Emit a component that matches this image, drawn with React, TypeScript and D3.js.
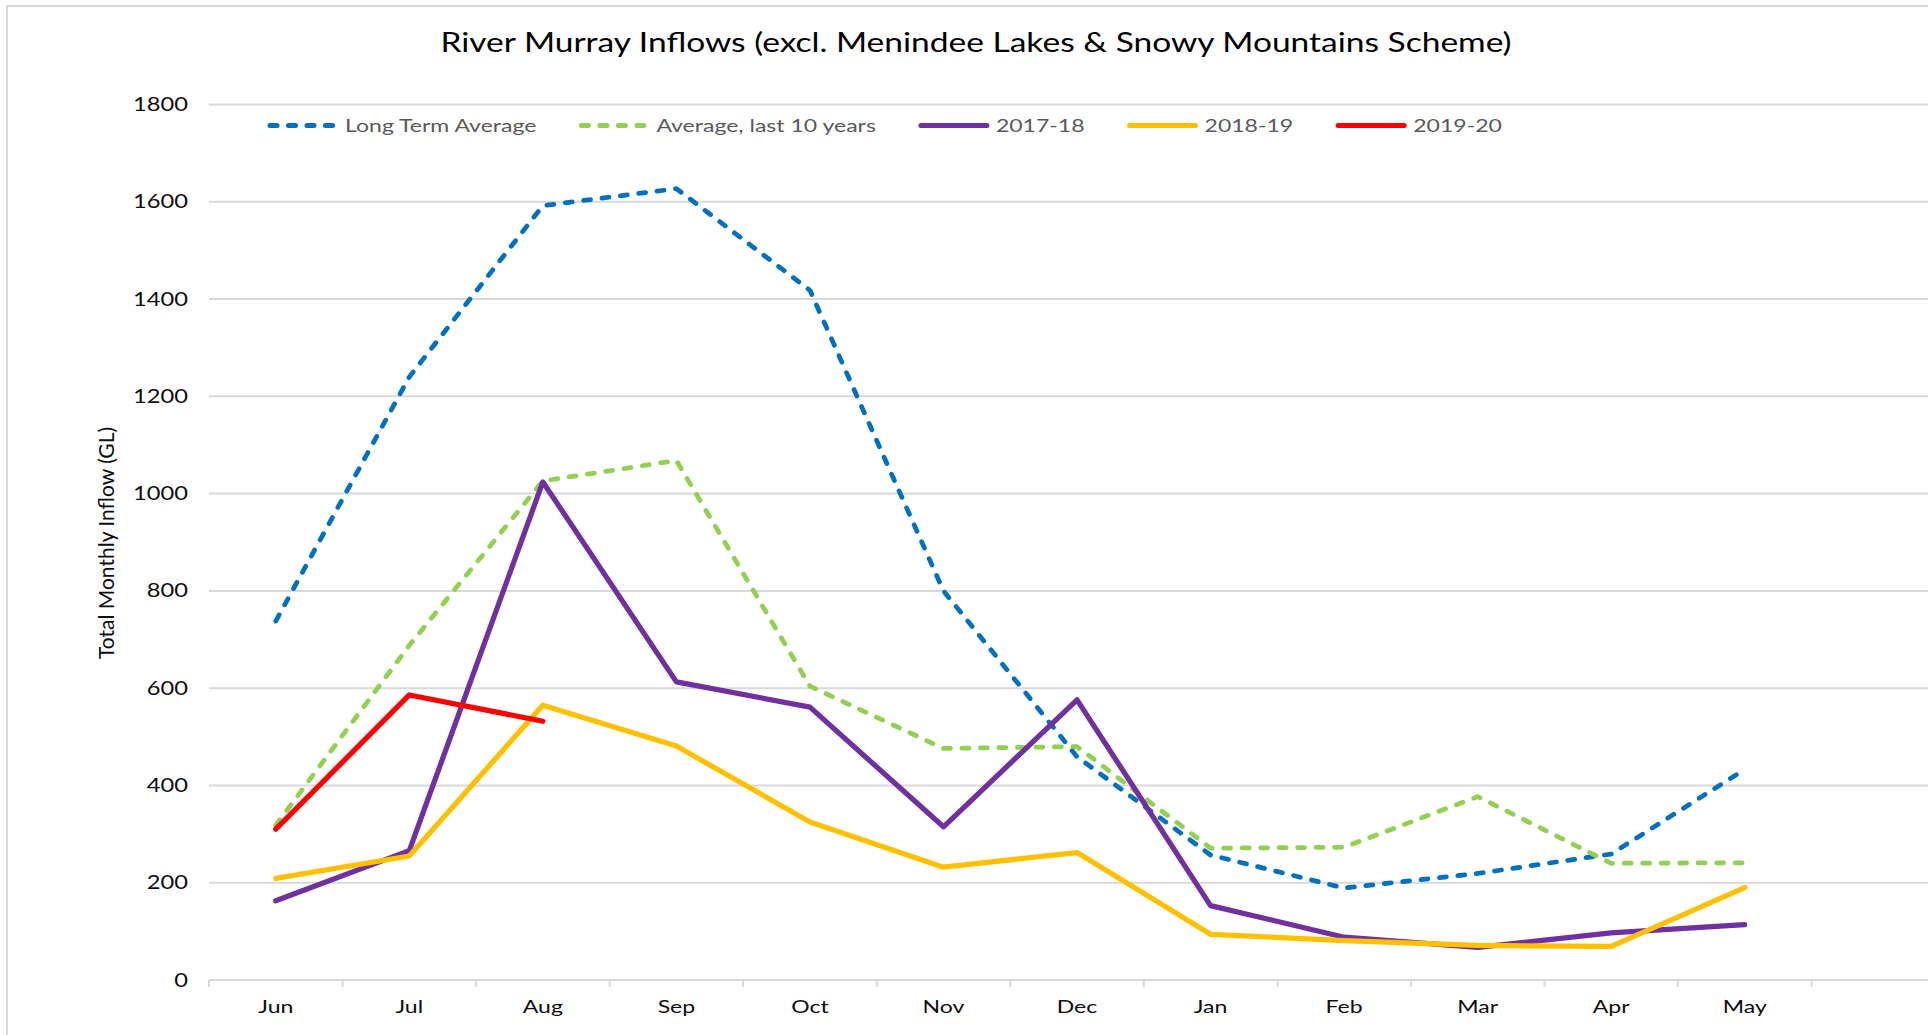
import React, { useRef, useEffect } from 'react';
import * as d3 from 'd3';

// monthly inflows (GL), water year Jun..May
const months = ['Jun', 'Jul', 'Aug', 'Sep', 'Oct', 'Nov', 'Dec', 'Jan', 'Feb', 'Mar', 'Apr', 'May'];
const yTicks = [0, 200, 400, 600, 800, 1000, 1200, 1400, 1600, 1800];

const longTermAvg = [738, 1240, 1592, 1627, 1418, 800, 459, 257, 189, 219, 259, 433];
const avgLast10 = [318, 688, 1026, 1068, 604, 476, 480, 271, 273, 377, 240, 241];
const y2017_18 = [163, 266, 1024, 613, 561, 315, 576, 153, 88, 67, 97, 114];
const y2018_19 = [209, 255, 565, 481, 325, 232, 262, 94, 81, 71, 69, 190];
const y2019_20 = [310, 586, 532];

const seriesNames = ['Long Term Average', 'Average, last 10 years', '2017-18', '2018-19', '2019-20'];
const seriesValues = [longTermAvg, avgLast10, y2017_18, y2018_19, y2019_20];
const seriesColors = ['#0070C0', '#92D050', '#7030A0', '#FFC000', '#FF0000'];
const seriesDashed = [true, true, false, false, false];

const W = 1928;
const H = 1035;
const plot = { left: 209, right: 1811.5, top: 104.5, bottom: 980 };
const SX = 1.28; // the original font is a wide geometric face
const FONT = 'Lato, "Open Sans", sans-serif';
const GRID = '#D9D9D9';

function Chart() {
    const ref = useRef<SVGSVGElement>(null);

    useEffect(() => {
        const svg = d3.select(ref.current);
        svg.selectAll('*').remove();

        const x = d3.scaleBand<string>().domain(months).range([plot.left, plot.right]);
        const y = d3.scaleLinear().domain([0, 1800]).range([plot.bottom, plot.top]);
        const cx = (i: number) => (x(months[i]) as number) + x.bandwidth() / 2;

        // outer chart border (cropped on the right / bottom)
        svg.append('path')
            .attr('d', `M7,${H} V6 H${W}`)
            .attr('fill', 'none')
            .attr('stroke', GRID)
            .attr('stroke-width', 2);

        // title
        svg.append('text')
            .attr('transform', `translate(976,52) scale(${SX},1)`)
            .attr('text-anchor', 'middle')
            .attr('font-family', FONT)
            .attr('font-size', 26.2)
            .attr('fill', '#000')
            .text('River Murray Inflows (excl. Menindee Lakes & Snowy Mountains Scheme)');

        // gridlines
        svg.append('g').selectAll('line')
            .data(yTicks)
            .join('line')
            .attr('x1', plot.left)
            .attr('x2', W)
            .attr('y1', d => y(d))
            .attr('y2', d => y(d))
            .attr('stroke', GRID)
            .attr('stroke-width', 2);

        // y tick labels
        svg.append('g').selectAll('text')
            .data(yTicks)
            .join('text')
            .attr('transform', d => `translate(188,${y(d) + 6.5}) scale(${SX},1)`)
            .attr('text-anchor', 'end')
            .attr('font-family', FONT)
            .attr('font-size', 18.5)
            .attr('fill', '#0d0d0d')
            .text(d => d);

        // y axis title
        svg.append('text')
            .attr('transform', `translate(114,543) rotate(-90)`)
            .attr('text-anchor', 'middle')
            .attr('font-family', FONT)
            .attr('font-size', 21)
            .attr('fill', '#0d0d0d')
            .text('Total Monthly Inflow (GL)');

        // x axis ticks on band edges
        const edges = months.map(m => x(m) as number).concat([plot.right]);
        svg.append('g').selectAll('line')
            .data(edges)
            .join('line')
            .attr('x1', d => d)
            .attr('x2', d => d)
            .attr('y1', plot.bottom)
            .attr('y2', plot.bottom + 7)
            .attr('stroke', GRID)
            .attr('stroke-width', 2);

        svg.append('g').selectAll('text')
            .data(months)
            .join('text')
            .attr('transform', (d, i) => `translate(${cx(i)},1013) scale(${SX},1)`)
            .attr('text-anchor', 'middle')
            .attr('font-family', FONT)
            .attr('font-size', 18)
            .attr('fill', '#0d0d0d')
            .text(d => d);

        // series
        const line = d3.line<number>()
            .x((d, i) => cx(i))
            .y(d => y(d));

        svg.append('g').selectAll('path')
            .data(seriesValues)
            .join('path')
            .attr('d', d => line(d))
            .attr('fill', 'none')
            .attr('stroke', (d, i) => seriesColors[i])
            .attr('stroke-width', (d, i) => seriesDashed[i] ? 4.75 : 5.25)
            .attr('stroke-dasharray', (d, i) => seriesDashed[i] ? '7 11.5' : null)
            .attr('stroke-linecap', 'round')
            .attr('stroke-linejoin', 'round');

        // legend, laid out left to right
        const legend = svg.append('g');
        let lx = 268;
        const ly = 125.5;
        seriesNames.forEach((name, i) => {
            legend.append('line')
                .attr('x1', lx + 2)
                .attr('x2', lx + 68)
                .attr('y1', ly)
                .attr('y2', ly)
                .attr('stroke', seriesColors[i])
                .attr('stroke-width', 5)
                .attr('stroke-dasharray', seriesDashed[i] ? '7 11.5' : null)
                .attr('stroke-linecap', 'round');
            const t = legend.append('text')
                .attr('transform', `translate(${lx + 77},${ly + 6}) scale(${SX},1)`)
                .attr('font-family', FONT)
                .attr('font-size', 18)
                .attr('fill', '#595959')
                .text(name);
            const tw = (t.node() as SVGTextElement).getComputedTextLength() * SX;
            lx = lx + 77 + tw + 43;
        });
    }, []);

    return (
        <svg ref={ref} width={W} height={H}
            style={{ position: 'absolute', left: 0, top: 0, display: 'block', background: '#fff' }} />
    );
}

export default function App() {
    return <Chart />;
}
